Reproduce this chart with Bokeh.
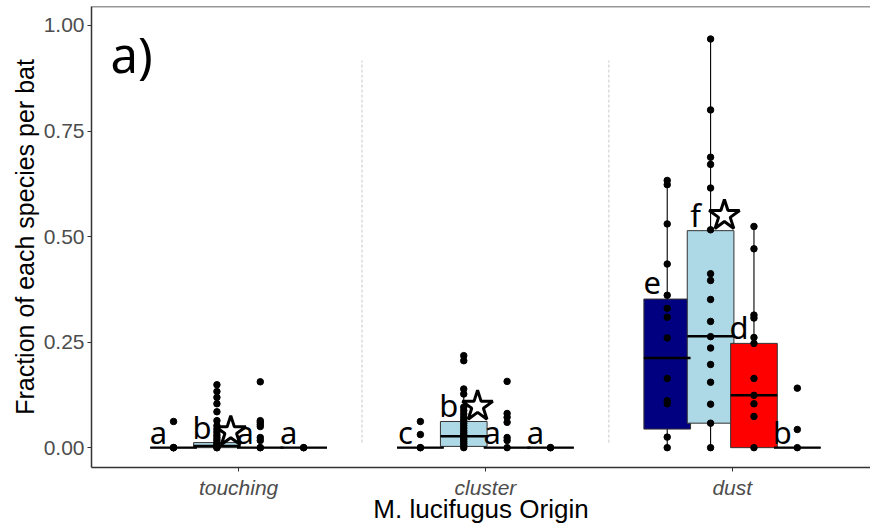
from bokeh.plotting import figure
from bokeh.models import ColumnDataSource, FixedTicker, NumeralTickFormatter, Span, Label, Range1d
from bokeh.core.properties import value
from bokeh.embed import file_html
from bokeh.resources import INLINE

# ---- data -------------------------------------------------------------
origins = ["touching", "cluster", "dust"]
species = ["s1", "s2", "s3", "s4"]
species_colors = ["#000080", "#ADD8E6", "#FF0000", "#FFFFFF"]

# fraction of each species per bat, by origin
touching_s1 = [0.062, 0, 0, 0]
touching_s2 = [0.149, 0.133, 0.119, 0.104, 0.085, 0.064, 0.052, 0.044, 0.037,
               0.030, 0.024, 0.018, 0.012, 0.008, 0.004, 0, 0]
touching_s3 = [0.156, 0.064, 0.060, 0.055, 0.050, 0.024, 0.017, 0, 0]
touching_s4 = [0, 0]

cluster_s1 = [0.062, 0.031, 0, 0]
cluster_s2 = [0.218, 0.206, 0.139, 0.127, 0.096, 0.088, 0.080, 0.072, 0.065,
              0.058, 0.052, 0.046, 0.040, 0.035, 0.030, 0.025, 0.020, 0.015,
              0.010, 0.005, 0]
cluster_s3 = [0.157, 0.081, 0.072, 0.060, 0.024, 0.017, 0]
cluster_s4 = [0, 0]

dust_s1 = [0.633, 0.623, 0.530, 0.435, 0.361, 0.330, 0.309, 0.260, 0.164,
           0.111, 0.104, 0.025, 0]
dust_s2 = [0.968, 0.800, 0.688, 0.671, 0.615, 0.516, 0.412, 0.396, 0.351,
           0.299, 0.263, 0.236, 0.197, 0.155, 0.103, 0.058, 0]
dust_s3 = [0.524, 0.471, 0.314, 0.307, 0.261, 0.247, 0.164, 0.124, 0.104,
           0.074, 0]
dust_s4 = [0.141, 0.043, 0]

points = [
    [touching_s1, touching_s2, touching_s3, touching_s4],
    [cluster_s1, cluster_s2, cluster_s3, cluster_s4],
    [dust_s1, dust_s2, dust_s3, dust_s4],
]

# box statistics per origin (rows) and species (columns)
box_q1 = [[0, 0, 0, 0], [0, 0.003, 0, 0], [0.044, 0.058, 0, 0]]
box_med = [[0, 0.004, 0, 0], [0, 0.027, 0, 0], [0.2125, 0.264, 0.124, 0]]
box_q3 = [[0, 0.012, 0, 0], [0, 0.062, 0, 0], [0.352, 0.514, 0.247, 0]]
whisk_lo = [[0, 0, 0, 0], [0, 0, 0, 0], [0, 0, 0, 0]]
whisk_hi = [[0, 0.030, 0, 0], [0, 0.139, 0, 0], [0.633, 0.968, 0.524, 0]]

# significance letters
letters = [["a", "b", "a", "a"], ["c", "b", "a", "a"], ["e", "f", "d", "b"]]
# the starred species and the height of its star in each origin
star_species = "s2"
star_height = [0.038, 0.098, 0.550]

# ---- layout helpers ----------------------------------------------------
dodge = 0.1757
box_w = 0.189
offsets = [(i - 1.5) * dodge for i in range(len(species))]

rows = dict(x=[], left=[], right=[], q1=[], med=[], q3=[], lo=[], hi=[],
            color=[], letter=[])
px, py = [], []
stars_x, stars_y = [], []
for gi, origin in enumerate(origins):
    for si, sp in enumerate(species):
        xc = gi + 1 + offsets[si]
        rows["x"].append(xc)
        rows["left"].append(xc - box_w / 2)
        rows["right"].append(xc + box_w / 2)
        rows["q1"].append(box_q1[gi][si])
        rows["med"].append(box_med[gi][si])
        rows["q3"].append(box_q3[gi][si])
        rows["lo"].append(whisk_lo[gi][si])
        rows["hi"].append(whisk_hi[gi][si])
        rows["color"].append(species_colors[si])
        rows["letter"].append(letters[gi][si])
        for v in points[gi][si]:
            px.append(xc)
            py.append(v)
        if sp == star_species:
            stars_x.append(xc + 0.056)
            stars_y.append(star_height[gi])

src = ColumnDataSource(rows)

# ---- figure ------------------------------------------------------------
p = figure(width=870, height=527, output_backend="svg", toolbar_location=None,
           x_range=Range1d(0.404, 3.56), y_range=Range1d(-0.047, 1.045),
           min_border_left=91, min_border_right=0, min_border_top=6,
           min_border_bottom=60)
p.outline_line_color = None
p.xgrid.visible = False
p.ygrid.visible = False
p.background_fill_color = "white"
p.border_fill_color = "white"

# top border of the panel
p.add_layout(Span(location=1.045, dimension="width", line_color="#333333",
                  line_width=1.5))

# dotted separators between origins
p.segment(x0=[1.5, 2.5], y0=[0.012, 0.012], x1=[1.5, 2.5], y1=[0.917, 0.917],
          line_color="#C8C8C8", line_width=1, line_dash="3 2")

# whiskers
p.segment(x0="x", y0="lo", x1="x", y1="q1", source=src, line_color="black",
          line_width=1.1)
p.segment(x0="x", y0="q3", x1="x", y1="hi", source=src, line_color="black",
          line_width=1.1)

# boxes and medians
p.quad(left="left", right="right", bottom="q1", top="q3", source=src,
       fill_color="color", line_color="#333333", line_width=1)
p.segment(x0="left", y0="med", x1="right", y1="med", source=src,
          line_color="black", line_width=2.4)

# individual bats
p.scatter(px, py, size=6.5, color="black")

# letters and stars
p.text(x="x", y="q3", text="letter", source=src, text_font=value("Noto Sans"),
       text_font_size="31px", text_align="center", text_baseline="alphabetic",
       x_offset=-15, y_offset=-16, text_color="black")
p.scatter(stars_x, stars_y, marker="star", size=32, fill_color="white",
          line_color="black", line_width=3)

p.add_layout(Label(x=0.481, y=0.933, text="a)", text_font="Noto Sans",
                   text_font_size="49px", text_color="black",
                   text_baseline="alphabetic"))

# ---- axes --------------------------------------------------------------
for ax in (p.xaxis, p.yaxis):
    ax.axis_line_color = "#333333"
    ax.axis_line_width = 1.5
    ax.major_tick_line_color = "#333333"
    ax.major_tick_in = 0
    ax.major_tick_out = 4
    ax.minor_tick_line_color = None
    ax.major_label_text_font = "Liberation Sans"
    ax.major_label_text_font_size = "21px"
    ax.major_label_text_color = "#4D4D4D"
    ax.axis_label_text_font = "Liberation Sans"
    ax.axis_label_text_font_style = "normal"
    ax.axis_label_text_color = "black"

p.yaxis.ticker = FixedTicker(ticks=[0, 0.25, 0.5, 0.75, 1.0])
p.yaxis.formatter = NumeralTickFormatter(format="0.00")
p.yaxis.axis_label = "Fraction of each species per bat"
p.yaxis.axis_label_text_font_size = "25px"
p.yaxis.axis_label_standoff = 2
p.yaxis.major_label_standoff = 3

p.xaxis.ticker = FixedTicker(ticks=[1, 2, 3])
p.xaxis.major_label_overrides = {i + 1: o for i, o in enumerate(origins)}
p.xaxis.major_label_text_font_style = "italic"
p.xaxis.axis_label = "M. lucifugus Origin"
p.xaxis.axis_label_text_font_size = "26px"
p.xaxis.axis_label_standoff = -8
p.xaxis.major_label_standoff = 4

open("out.html", "w").write(file_html(p, INLINE))
